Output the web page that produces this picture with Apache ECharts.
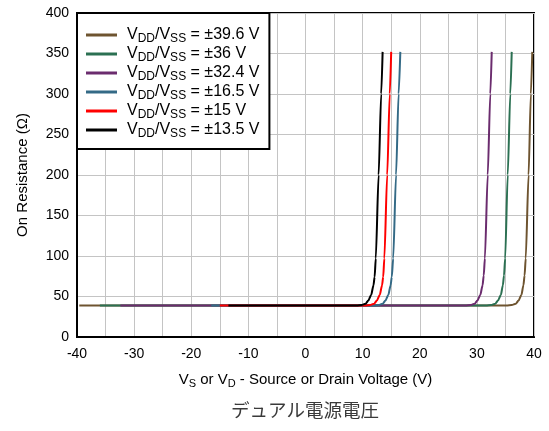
<!DOCTYPE html>
<html>
<head>
<meta charset="utf-8">
<script src="https://cdn.jsdelivr.net/npm/echarts@6/dist/echarts.min.js"></script>
<style>
  html, body { margin: 0; padding: 0; background: #fff; }
  #chart { width: 549px; height: 431px; }
</style>
</head>
<body>
<div id="chart"></div>
<script>
// Supply voltages (legend values) and colours
const supplies = ['39.6', '36', '32.4', '16.5', '15', '13.5'];
const colors = ['#6e5430', '#2b7052', '#6b2c6e', '#346a86', '#ff0000', '#000000'];

// On-resistance curves: source/drain voltage (V) and resistance (Ω)
const vs396 = [-39.6, 35.2, 36.1, 36.8, 37.3, 37.8, 38.15, 38.35, 38.55, 39.05, 39.45, 39.7];
const ron396 = [39, 39, 39.5, 41, 45, 52, 64, 76, 97, 200, 300, 352];

const vs36 = [-36, 31.6, 32.5, 33.2, 33.7, 34.2, 34.55, 34.75, 34.95, 35.4, 35.85, 36.1];
const ron36 = [39, 39, 39.5, 41, 45, 52, 64, 76, 97, 200, 300, 352];

const vs324 = [-32.4, 28, 28.9, 29.6, 30.1, 30.6, 31.0, 31.2, 31.4, 31.9, 32.35, 32.6];
const ron324 = [39, 39, 39.5, 41, 45, 52, 64, 76, 97, 200, 300, 352];

const vs165 = [-16.5, 12, 12.8, 13.5, 14.0, 14.5, 14.9, 15.1, 15.35, 15.85, 16.3, 16.6];
const ron165 = [39, 39, 39.5, 41, 45, 52, 64, 74, 97, 200, 300, 352];

const vs15 = [-15, 10.5, 11.3, 12.0, 12.5, 13.0, 13.4, 13.6, 13.8, 14.3, 14.75, 15.0];
const ron15 = [39, 39, 39.5, 41, 45, 52, 64, 74, 97, 200, 300, 352];

const vs135 = [-13.5, 9, 9.8, 10.5, 11.0, 11.5, 11.9, 12.1, 12.3, 12.8, 13.25, 13.5];
const ron135 = [39, 39, 39.5, 41, 45, 52, 64, 74, 97, 200, 300, 352];

const curves = [
  [vs396, ron396], [vs36, ron36], [vs324, ron324],
  [vs165, ron165], [vs15, ron15], [vs135, ron135]
];

// Axis ticks
const xMin = -40, xMax = 40, xStep = 5;
const yMin = 0, yMax = 400, yStep = 50;

const FONT = 'Liberation Sans, Arial, sans-serif';

const series = curves.map((c, i) => ({
  name: supplies[i],
  type: 'line',
  symbol: 'none',
  showSymbol: false,
  smooth: 0.25,
  smoothMonotone: 'x',
  lineStyle: { color: colors[i], width: 2 },
  itemStyle: { color: colors[i] },
  data: c[0].map((x, k) => [x, c[1][k]])
}));

const chart = echarts.init(document.getElementById('chart'), null, { renderer: 'canvas' });
chart.setOption({
  animation: false,
  backgroundColor: '#fff',
  grid: {
    left: 77, right: 15, top: 13, bottom: 94,
    show: true, borderColor: '#000', borderWidth: 2, backgroundColor: 'transparent'
  },
  legend: {
    left: 77, top: 13,
    orient: 'vertical',
    backgroundColor: '#fff',
    borderColor: '#000',
    borderWidth: 2,
    borderRadius: 0,
    padding: [12, 10, 9, 9],
    icon: 'rect',
    itemWidth: 31,
    itemHeight: 3,
    itemGap: -1,
    formatter: name => '{m|V}{sub|DD}{m|/V}{sub|SS}{m| = ±' + name + ' V}',
    textStyle: {
      fontFamily: FONT, fontSize: 16, color: '#000',
      padding: [0, 0, 0, 5],
      rich: {
        m: { fontFamily: FONT, fontSize: 16, color: '#000', lineHeight: 19 },
        sub: { fontFamily: FONT, fontSize: 12, color: '#000', lineHeight: 11, padding: [8, 0, 0, 0] }
      }
    },
    data: supplies
  },
  xAxis: {
    type: 'value', min: xMin, max: xMax, interval: xStep,
    axisLine: { show: true, onZero: false, lineStyle: { color: '#000', width: 2 } },
    axisTick: { show: false },
    splitLine: { show: true, lineStyle: { color: '#c4c4c4', width: 1 } },
    axisLabel: {
      fontFamily: FONT, fontSize: 14, color: '#000', margin: 10,
      formatter: v => (v % 10 === 0 ? String(v) : '')
    },
    name: '{m|V}{sub|S}{m| or V}{sub|D}{m| - Source or Drain Voltage (V)}',
    nameLocation: 'middle', nameGap: 34,
    nameTextStyle: {
      fontFamily: FONT, fontSize: 15, color: '#000',
      rich: {
        m: { fontFamily: FONT, fontSize: 15, color: '#000', lineHeight: 18 },
        sub: { fontFamily: FONT, fontSize: 11, color: '#000', lineHeight: 11, padding: [7, 0, 0, 0] }
      }
    }
  },
  yAxis: {
    type: 'value', min: yMin, max: yMax, interval: yStep,
    axisLine: { show: true, onZero: false, lineStyle: { color: '#000', width: 2 } },
    axisTick: { show: false },
    splitLine: { show: true, lineStyle: { color: '#c4c4c4', width: 1 } },
    axisLabel: { fontFamily: FONT, fontSize: 14, color: '#000', margin: 8 },
    name: 'On Resistance (Ω)',
    nameLocation: 'middle', nameGap: 47, nameRotate: 90,
    nameTextStyle: { fontFamily: FONT, fontSize: 15, color: '#000' }
  },
  graphic: [{
    type: 'text',
    left: 231, top: 401,
    style: {
      text: 'デュアル電源電圧',
      font: '18.5px "Noto Sans CJK JP"',
      fill: '#3a3a3a'
    }
  }],
  series: series
});
</script>
</body>
</html>
